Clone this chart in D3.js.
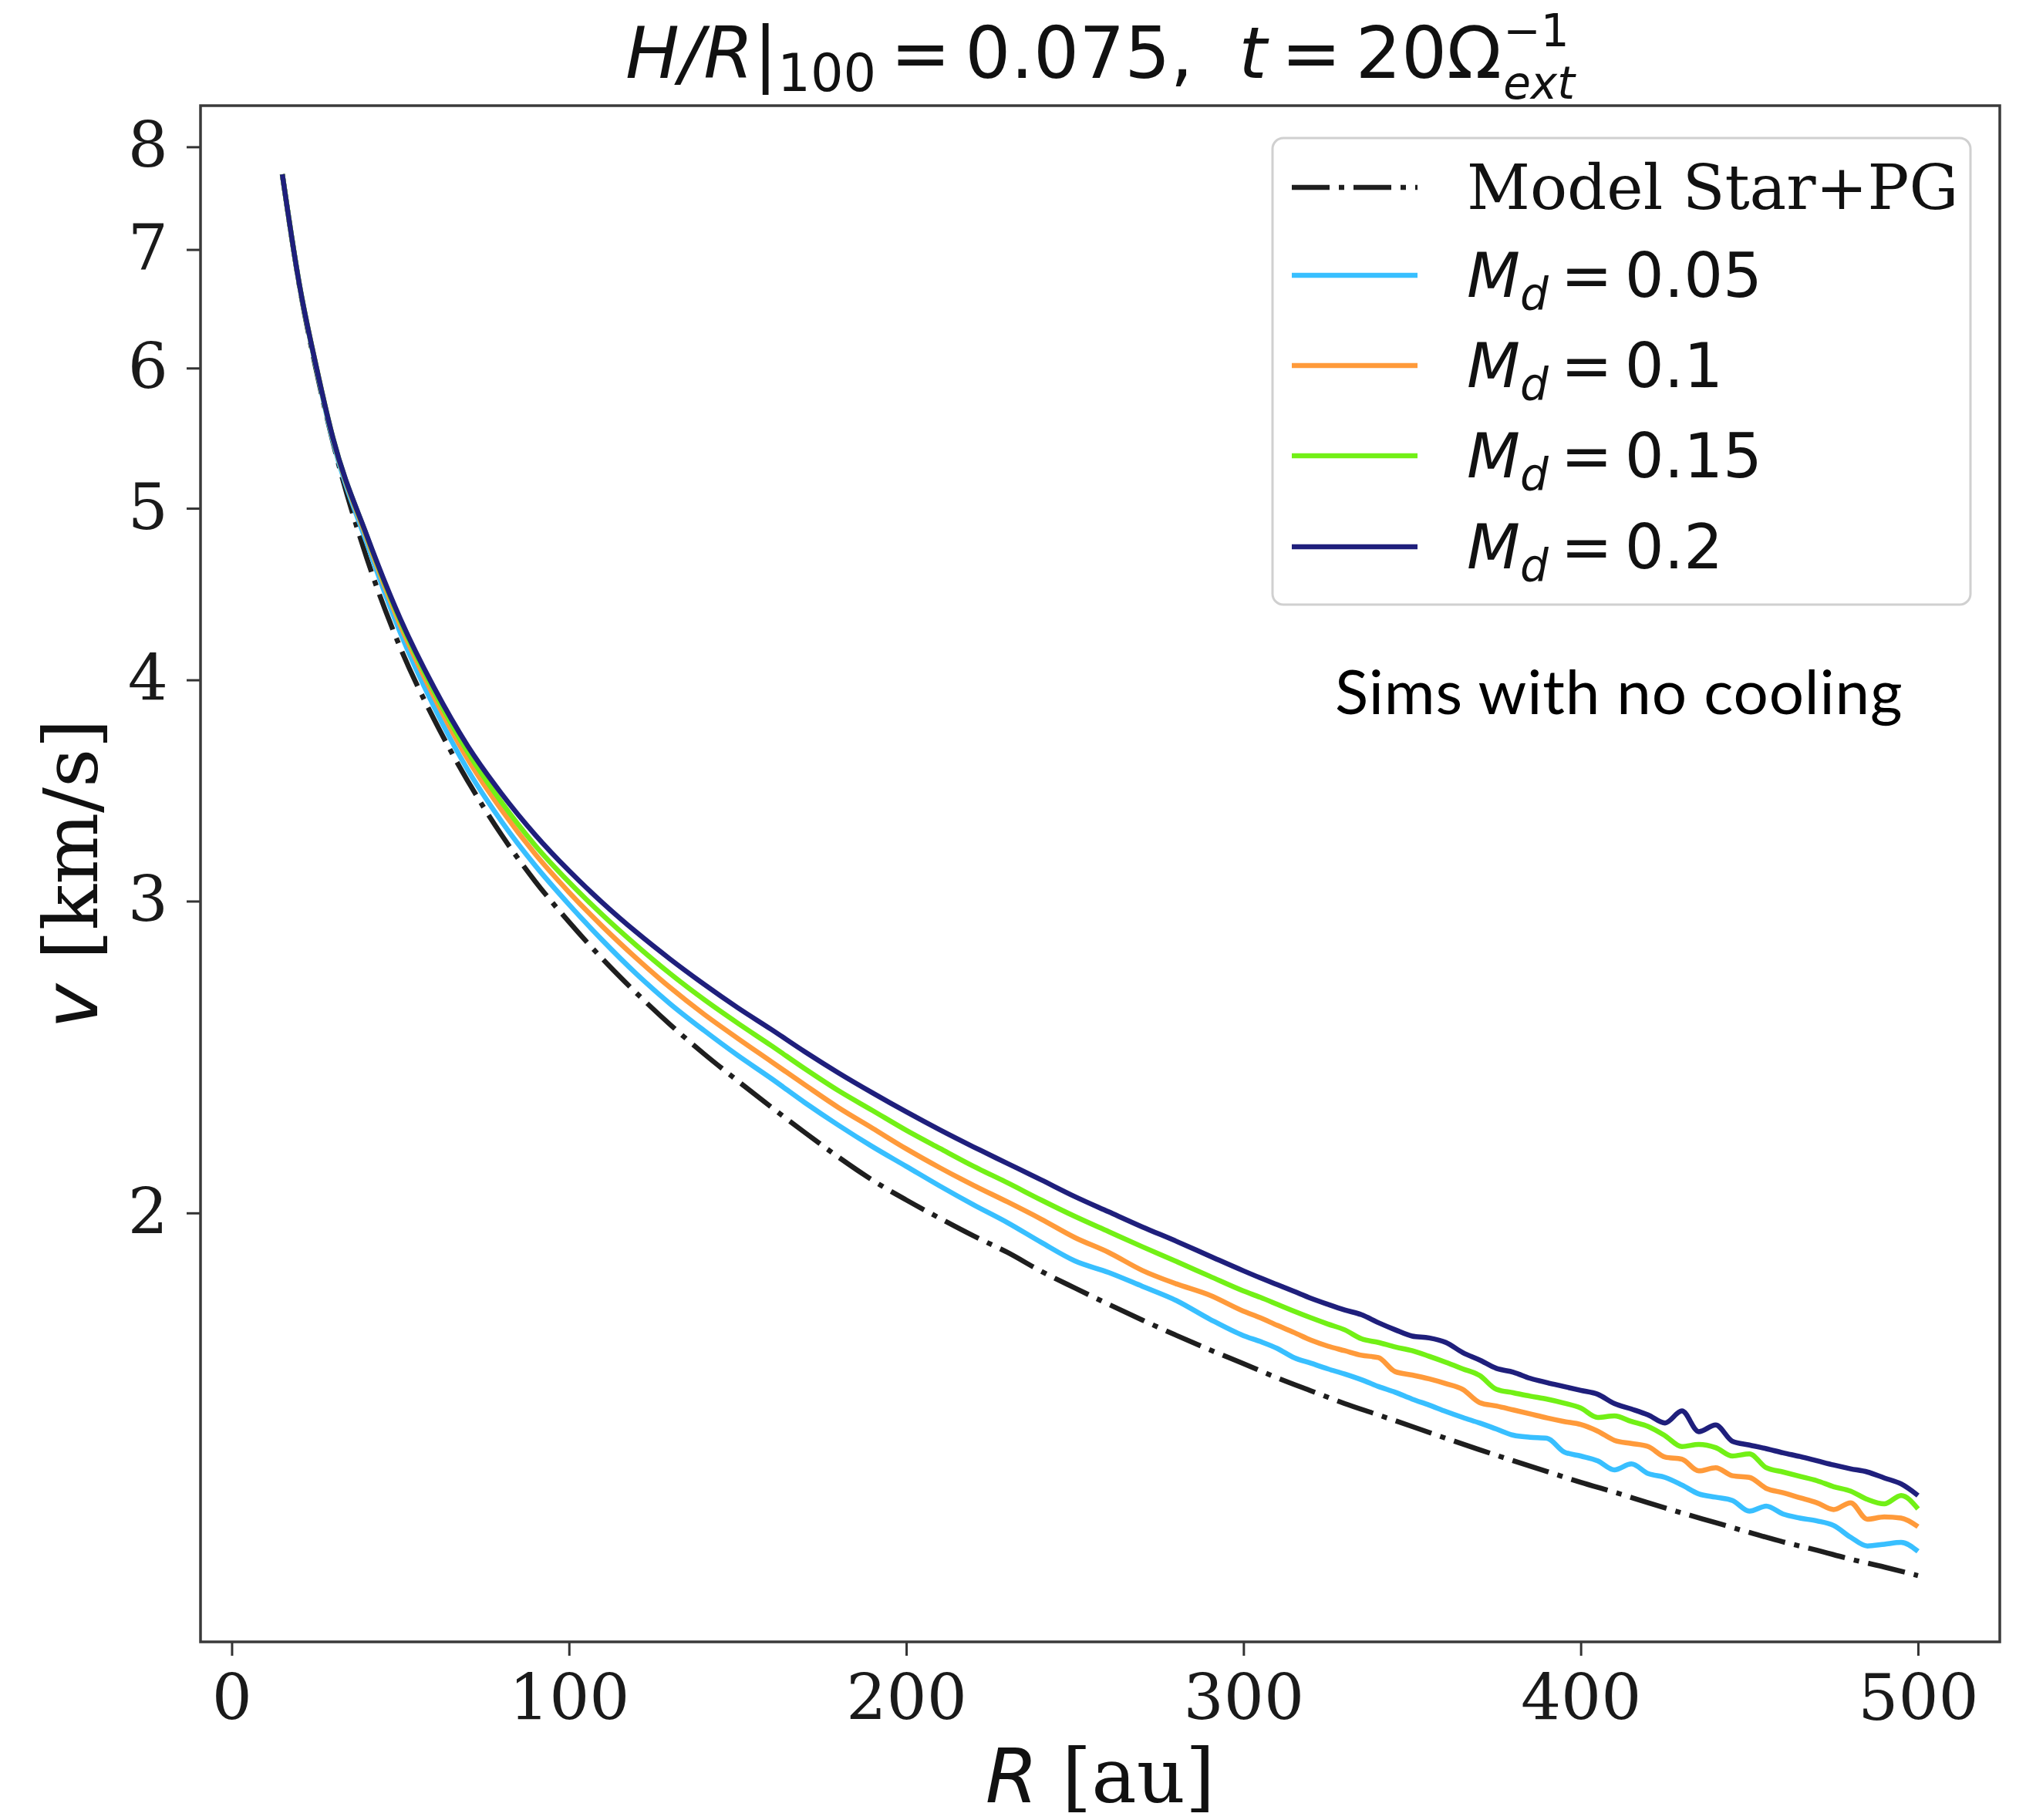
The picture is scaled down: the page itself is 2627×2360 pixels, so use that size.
<!DOCTYPE html>
<html>
<head>
<meta charset="utf-8">
<script src="https://d3js.org/d3.v7.min.js"></script>
<style>
  html, body { margin: 0; padding: 0; background: #fff; }
  svg text { white-space: pre; }
</style>
</head>
<body>
<svg id="chart" width="2627" height="2360"></svg>
<script>
// radius grid [au] shared by the simulation curves
const rSim = [15, 20, 25, 30, 40, 50, 60, 70, 80, 90, 100, 110, 120, 130, 140, 150, 160, 170, 180, 190,
  200, 210, 220, 230, 240, 250, 260, 270, 280, 290, 300, 305, 310, 315, 320, 325, 330, 335, 340, 345,
  350, 355, 360, 365, 370, 375, 380, 385, 390, 395, 400, 405, 410, 415, 420, 425, 430, 435, 440, 445,
  450, 455, 460, 465, 470, 475, 480, 485, 490, 495, 500];

// radius grid for the analytic model
const rModel = [15, 20, 25, 30, 40, 50, 60, 70, 80, 90, 100, 110, 120, 130, 140, 150, 160, 170, 180, 190,
  200, 210, 220, 230, 240, 250, 260, 270, 280, 290, 300, 310, 320, 330, 340, 350, 360, 370, 380, 390,
  400, 410, 420, 430, 440, 450, 460, 470, 480, 490, 500];

// v [km/s]
const vModel = [7.72, 6.69, 5.99, 5.45, 4.69, 4.17, 3.80, 3.507, 3.27, 3.078, 2.92, 2.782, 2.662, 2.555,
  2.46, 2.375, 2.295, 2.22, 2.15, 2.087, 2.034, 1.986, 1.941, 1.90, 1.854, 1.814, 1.776, 1.740, 1.706,
  1.674, 1.644, 1.614, 1.587, 1.561, 1.538, 1.515, 1.492, 1.470, 1.449, 1.429, 1.409, 1.391, 1.372,
  1.354, 1.337, 1.320, 1.304, 1.290, 1.275, 1.262, 1.248];

const vMd005 = [7.72, 6.70, 6.008, 5.458, 4.782, 4.253, 3.862, 3.558, 3.328, 3.142, 2.987, 2.850, 2.729,
  2.625, 2.536, 2.455, 2.382, 2.308, 2.241, 2.180, 2.125, 2.071, 2.021, 1.975, 1.925, 1.879, 1.851, 1.818,
  1.785, 1.742, 1.705, 1.692, 1.677, 1.657, 1.645, 1.633, 1.622, 1.610, 1.596, 1.584, 1.570, 1.558,
  1.545, 1.533, 1.522, 1.510, 1.498, 1.494, 1.492, 1.466, 1.458, 1.449, 1.432, 1.443, 1.425, 1.418,
  1.404, 1.388, 1.382, 1.376, 1.357, 1.366, 1.352, 1.345, 1.340, 1.332, 1.312, 1.297, 1.300, 1.303, 1.288];

const vMd01 = [7.72, 6.70, 6.02, 5.475, 4.811, 4.295, 3.913, 3.608, 3.378, 3.189, 3.035, 2.902, 2.785,
  2.681, 2.590, 2.510, 2.435, 2.362, 2.293, 2.233, 2.174, 2.121, 2.073, 2.029, 1.984, 1.937, 1.900, 1.856,
  1.824, 1.797, 1.760, 1.745, 1.728, 1.712, 1.695, 1.682, 1.672, 1.662, 1.657, 1.627, 1.620, 1.612,
  1.602, 1.590, 1.563, 1.556, 1.548, 1.540, 1.532, 1.525, 1.519, 1.506, 1.488, 1.482, 1.476, 1.456,
  1.452, 1.430, 1.436, 1.421, 1.418, 1.398, 1.390, 1.381, 1.372, 1.360, 1.372, 1.343, 1.347, 1.345, 1.330];

const vMd015 = [7.72, 6.70, 6.02, 5.48, 4.825, 4.317, 3.940, 3.641, 3.412, 3.225, 3.075, 2.946, 2.832,
  2.730, 2.640, 2.560, 2.486, 2.412, 2.344, 2.285, 2.227, 2.175, 2.125, 2.080, 2.034, 1.991, 1.952, 1.914,
  1.878, 1.842, 1.807, 1.792, 1.776, 1.760, 1.745, 1.731, 1.718, 1.698, 1.690, 1.680, 1.672, 1.660,
  1.647, 1.633, 1.619, 1.590, 1.583, 1.576, 1.570, 1.562, 1.552, 1.533, 1.536, 1.525, 1.515, 1.497,
  1.476, 1.480, 1.474, 1.458, 1.462, 1.436, 1.428, 1.420, 1.412, 1.401, 1.393, 1.378, 1.370, 1.385, 1.361];

const vMd02 = [7.72, 6.70, 6.02, 5.48, 4.83, 4.33, 3.96, 3.67, 3.45, 3.27, 3.121, 2.993, 2.881, 2.782,
  2.693, 2.612, 2.539, 2.466, 2.399, 2.338, 2.281, 2.228, 2.179, 2.133, 2.088, 2.043, 2.003, 1.964, 1.928,
  1.891, 1.855, 1.838, 1.822, 1.806, 1.790, 1.776, 1.763, 1.752, 1.734, 1.718, 1.704, 1.700, 1.690,
  1.668, 1.652, 1.634, 1.626, 1.613, 1.604, 1.596, 1.588, 1.580, 1.561, 1.550, 1.538, 1.522, 1.546,
  1.505, 1.518, 1.486, 1.479, 1.472, 1.464, 1.457, 1.449, 1.441, 1.434, 1.428, 1.417, 1.406, 1.385];

const xTicks = [0, 100, 200, 300, 400, 500];
const yTicks = [2, 3, 4, 5, 6, 7, 8];

const series = [
  {label: "Model Star+PG", md: false, r: rModel, v: vModel, color: "#1e1e1e", dash: "49,12,7,12"},
  {label: "0.05", md: true, r: rSim, v: vMd005, color: "#38bfff"},
  {label: "0.1", md: true, r: rSim, v: vMd01, color: "#ff9a3a"},
  {label: "0.15", md: true, r: rSim, v: vMd015, color: "#72f016"},
  {label: "0.2", md: true, r: rSim, v: vMd02, color: "#1f1f7c"}
];

const plotL = 260, plotR = 2593, plotT = 137, plotB = 2129;
const SERIF = "'DejaVu Serif', serif", SANS = "'DejaVu Sans', sans-serif";
const THIN = "\u2009";

const svg = d3.select("#chart");

const x = d3.scaleLinear().domain([-9.25, 524.25]).range([plotL, plotR]);
const y = d3.scaleLog().domain([1.145, 8.44]).range([plotB, plotT]);

svg.append("defs").append("clipPath").attr("id", "plot")
  .append("rect").attr("x", plotL).attr("y", plotT)
  .attr("width", plotR - plotL).attr("height", plotB - plotT);

// curves
const lines = svg.append("g").attr("clip-path", "url(#plot)");
series.forEach(s => {
  const line = d3.line()
      .x((d, i) => x(s.r[i]))
      .y(d => y(d))
      .curve(d3.curveMonotoneX);
  lines.append("path")
      .attr("d", line(s.v))
      .attr("fill", "none")
      .attr("stroke", s.color)
      .attr("stroke-width", 6.5)
      .attr("stroke-linejoin", "round")
      .attr("stroke-dasharray", s.dash || null);
});

// axes
const xAxis = svg.append("g")
    .attr("transform", `translate(0,${plotB})`)
    .call(d3.axisBottom(x).tickValues(xTicks).tickSize(18).tickPadding(25));
const yAxis = svg.append("g")
    .attr("transform", `translate(${plotL},0)`)
    .call(d3.axisLeft(y).tickValues(yTicks).tickFormat(d3.format("d")).tickSize(18).tickPadding(24));

[xAxis, yAxis].forEach(g => {
  g.select(".domain").remove();
  g.selectAll(".tick line").attr("stroke", "#333").attr("stroke-width", 3);
  g.selectAll(".tick text")
      .attr("font-family", SERIF)
      .attr("font-size", 82)
      .attr("fill", "#1a1a1a");
});

svg.append("rect")
    .attr("x", plotL).attr("y", plotT)
    .attr("width", plotR - plotL).attr("height", plotB - plotT)
    .attr("fill", "none").attr("stroke", "#3a3a3a").attr("stroke-width", 3.5);

// axis labels
const xl = svg.append("text")
    .attr("x", (plotL + plotR) / 2).attr("y", 2337)
    .attr("text-anchor", "middle").attr("font-size", 98).attr("fill", "#111");
xl.append("tspan").attr("font-family", SANS).attr("font-style", "italic").text("R");
xl.append("tspan").attr("font-family", SERIF).text(" [au]");

const yl = svg.append("text")
    .attr("transform", `translate(126,${(plotT + plotB) / 2}) rotate(-90)`)
    .attr("text-anchor", "middle").attr("font-size", 98).attr("fill", "#111");
yl.append("tspan").attr("font-family", SANS).attr("font-style", "italic").text("v");
yl.append("tspan").attr("font-family", SERIF).text(" [km/s]");

// title
const tg = svg.append("g");
const tt = tg.append("text").attr("x", 0).attr("y", 101)
    .attr("font-family", SANS).attr("font-size", 93).attr("fill", "#111");
tt.append("tspan").attr("font-style", "italic").text("H/R");
tt.append("tspan").text("|");
tt.append("tspan").attr("font-size", 67).attr("dy", 17).text("100");
tt.append("tspan").attr("dy", -17).text(THIN + "=" + THIN + "0.075,  ");
tt.append("tspan").attr("font-style", "italic").text("t");
tt.append("tspan").text(THIN + "=" + THIN + "20\u03A9");
const w0 = tt.node().getComputedTextLength();
const sup = tg.append("text").attr("x", w0 + 2).attr("y", 60)
    .attr("font-family", SANS).attr("font-size", 58).attr("fill", "#111").text("\u22121");
const sub = tg.append("text").attr("x", w0 + 2).attr("y", 128)
    .attr("font-family", SANS).attr("font-style", "italic").attr("font-size", 58).attr("fill", "#111").text("ext");
const wTot = w0 + 2 + Math.max(sup.node().getComputedTextLength(), sub.node().getComputedTextLength());
tg.attr("transform", `translate(${(plotL + plotR) / 2 - wTot / 2},0)`);

// legend
const lg = svg.append("g");
lg.append("rect")
    .attr("x", 1650).attr("y", 179).attr("width", 905).attr("height", 605).attr("rx", 14)
    .attr("fill", "#fff").attr("fill-opacity", 0.85)
    .attr("stroke", "#d0d0d0").attr("stroke-width", 3);
const rowY = [243, 357, 474, 591, 709];
series.forEach((s, i) => {
  lg.append("line")
      .attr("x1", 1675).attr("x2", 1838).attr("y1", rowY[i]).attr("y2", rowY[i])
      .attr("stroke", s.color).attr("stroke-width", 6.5)
      .attr("stroke-dasharray", s.dash || null);
  const t = lg.append("text").attr("x", 1902).attr("y", rowY[i] + 28)
      .attr("font-size", 80).attr("fill", "#111");
  if (!s.md) {
    t.attr("font-family", SERIF).text(s.label);
  } else {
    t.attr("font-family", SANS);
    t.append("tspan").attr("font-style", "italic").text("M");
    t.append("tspan").attr("font-style", "italic").attr("font-size", 58).attr("dy", 17).text("d");
    t.append("tspan").attr("dy", -17).text(THIN + "=" + THIN + s.label);
  }
});

// annotation
svg.append("text")
    .attr("x", 1731).attr("y", 926)
    .attr("font-family", "Lato, 'Open Sans', sans-serif").attr("font-size", 80)
    .attr("letter-spacing", 0.8).attr("fill", "#000")
    .text("Sims with no cooling");
</script>
</body>
</html>
